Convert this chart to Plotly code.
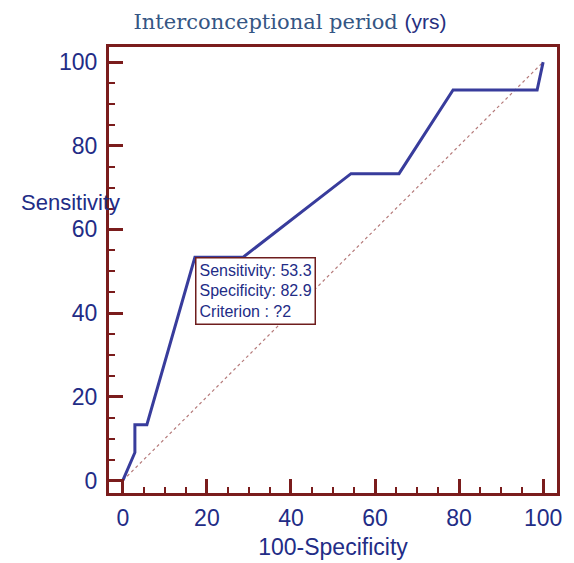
import plotly.graph_objects as go

# ROC curve points (100-Specificity, Sensitivity)
fpr = [0, 2.86, 2.86, 5.71, 17.14, 28.57, 54.29, 65.71, 78.57, 98.57, 100]
sens = [0, 6.67, 13.33, 13.33, 53.33, 53.33, 73.33, 73.33, 93.33, 93.33, 100]
diag = [0, 100]

x_ticks = [0, 20, 40, 60, 80, 100]
y_ticks = [0, 20, 40, 60, 80, 100]

box_point = (17.14, 53.33)
box_lines = ["Sensitivity: 53.3", "Specificity: 82.9", "Criterion : ?2"]

AX = "#7a1c1c"
LBL = "#222c86"

fig = go.Figure()
fig.add_trace(go.Scatter(x=diag, y=diag, mode="lines",
                         line=dict(color="#b57a7a", width=1.2, dash="dot"),
                         hoverinfo="skip", showlegend=False))
fig.add_trace(go.Scatter(x=fpr, y=sens, mode="lines",
                         line=dict(color="#383c9c", width=3),
                         showlegend=False))

axis_common = dict(
    showline=True, mirror=True, linecolor=AX, linewidth=3,
    ticks="inside", ticklen=14, tickwidth=3, tickcolor=AX,
    showgrid=False, zeroline=False, automargin=False,
    tickfont=dict(family="Liberation Sans, Arial", size=23, color=LBL),
    minor=dict(ticks="inside", dtick=5, ticklen=6, tickwidth=2, tickcolor=AX, showgrid=False),
)

fig.update_layout(
    width=574, height=563,
    margin=dict(l=109, r=17, t=47, b=70, autoexpand=False),
    paper_bgcolor="white", plot_bgcolor="white",
    xaxis=dict(range=[-3.3, 103.3], tickvals=x_ticks, ticklabelstandoff=2,
               title=dict(text="100-Specificity",
                          font=dict(family="Liberation Sans, Arial", size=23, color=LBL),
                          standoff=10),
               **axis_common),
    yaxis=dict(range=[-3.0, 103.6], tickvals=y_ticks, ticklabelstandoff=4,
               **axis_common),
    title=dict(
        text="<span style='font-family:DejaVu Serif;color:#355684'>Interconceptional period </span>"
             "<span style='font-family:Liberation Sans;color:#27307f'>(yrs)</span>",
        x=290 / 574, xanchor="center", y=1 - 22 / 563, yanchor="middle",
        font=dict(size=21),
    ),
)

fig.add_annotation(x=-0.086, xref="paper", y=66.5, yref="y",
                   text="Sensitivity", showarrow=False, xanchor="center", yanchor="middle",
                   font=dict(family="Liberation Sans, Arial", size=22, color=LBL))

fig.add_annotation(x=box_point[0], y=box_point[1], xref="x", yref="y",
                   text="<br>".join(box_lines), showarrow=False,
                   xanchor="left", yanchor="top", align="left",
                   bgcolor="white", bordercolor="#6e1d1d", borderwidth=1.5, borderpad=3,
                   font=dict(family="Liberation Sans, Arial", size=16, color=LBL))

fig.write_html("out.html", config={"displayModeBar": False},
               post_script="document.body.style.margin='0';document.body.style.overflow='hidden';")
